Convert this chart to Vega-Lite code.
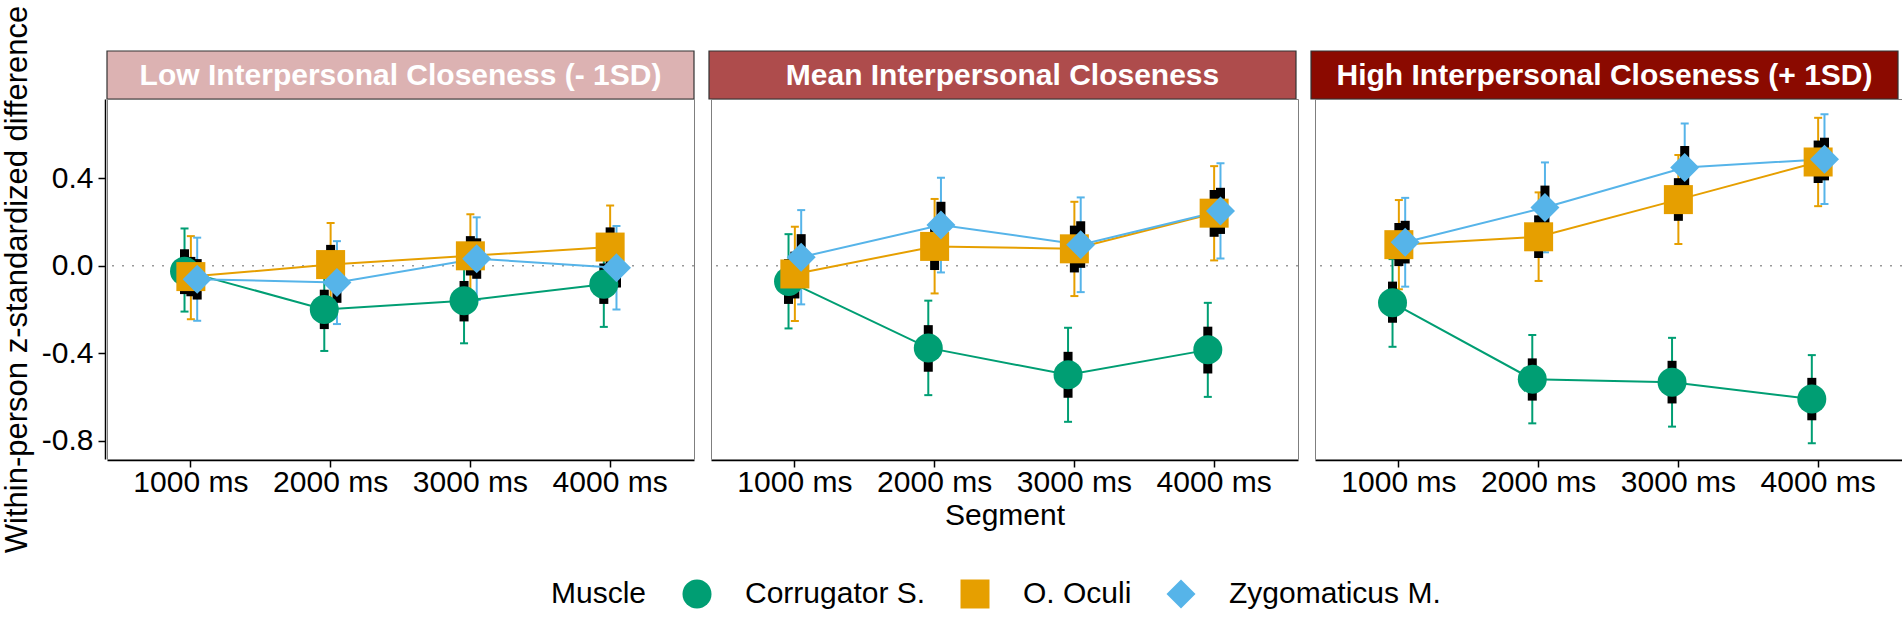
{
  "$schema": "https://vega.github.io/schema/vega-lite/v6.json",
  "background": "white",
  "padding": {"left": 1, "top": 5, "right": 8, "bottom": 5},
  "config": {
    "font": "Liberation Sans",
    "view": {"stroke": "#7f7f7f", "strokeWidth": 1},
    "axis": {"grid": false, "domainColor": "black", "domainWidth": 1.5, "tickColor": "black", "tickWidth": 1.5, "tickSize": 7, "labelFontSize": 30, "labelColor": "black", "titleFontSize": 31, "titleFontWeight": "normal", "titleColor": "black", "labelPadding": 5}
  },
  "datasets": {
    "strips": [
      {"closeness": "Low Interpersonal Closeness (- 1SD)"},
      {"closeness": "Mean Interpersonal Closeness"},
      {"closeness": "High Interpersonal Closeness (+ 1SD)"}
    ],
    "est": [
      {"closeness": "Low Interpersonal Closeness (- 1SD)", "segment": "1000 ms", "muscle": "Corrugator S.", "est": -0.025, "lo": -0.21, "hi": 0.17, "se_lo": -0.13, "se_hi": 0.075},
      {"closeness": "Low Interpersonal Closeness (- 1SD)", "segment": "2000 ms", "muscle": "Corrugator S.", "est": -0.20, "lo": -0.39, "hi": -0.01, "se_lo": -0.29, "se_hi": -0.11},
      {"closeness": "Low Interpersonal Closeness (- 1SD)", "segment": "3000 ms", "muscle": "Corrugator S.", "est": -0.16, "lo": -0.355, "hi": 0.035, "se_lo": -0.255, "se_hi": -0.07},
      {"closeness": "Low Interpersonal Closeness (- 1SD)", "segment": "4000 ms", "muscle": "Corrugator S.", "est": -0.085, "lo": -0.28, "hi": 0.11, "se_lo": -0.175, "se_hi": 0.01},
      {"closeness": "Low Interpersonal Closeness (- 1SD)", "segment": "1000 ms", "muscle": "O. Oculi", "est": -0.05, "lo": -0.245, "hi": 0.135, "se_lo": -0.14, "se_hi": 0.04},
      {"closeness": "Low Interpersonal Closeness (- 1SD)", "segment": "2000 ms", "muscle": "O. Oculi", "est": 0.005, "lo": -0.185, "hi": 0.195, "se_lo": -0.09, "se_hi": 0.095},
      {"closeness": "Low Interpersonal Closeness (- 1SD)", "segment": "3000 ms", "muscle": "O. Oculi", "est": 0.045, "lo": -0.145, "hi": 0.235, "se_lo": -0.045, "se_hi": 0.135},
      {"closeness": "Low Interpersonal Closeness (- 1SD)", "segment": "4000 ms", "muscle": "O. Oculi", "est": 0.085, "lo": -0.105, "hi": 0.275, "se_lo": -0.01, "se_hi": 0.175},
      {"closeness": "Low Interpersonal Closeness (- 1SD)", "segment": "1000 ms", "muscle": "Zygomaticus M.", "est": -0.062, "lo": -0.252, "hi": 0.128, "se_lo": -0.155, "se_hi": 0.03},
      {"closeness": "Low Interpersonal Closeness (- 1SD)", "segment": "2000 ms", "muscle": "Zygomaticus M.", "est": -0.077, "lo": -0.267, "hi": 0.112, "se_lo": -0.17, "se_hi": 0.015},
      {"closeness": "Low Interpersonal Closeness (- 1SD)", "segment": "3000 ms", "muscle": "Zygomaticus M.", "est": 0.032, "lo": -0.157, "hi": 0.221, "se_lo": -0.06, "se_hi": 0.125},
      {"closeness": "Low Interpersonal Closeness (- 1SD)", "segment": "4000 ms", "muscle": "Zygomaticus M.", "est": -0.01, "lo": -0.2, "hi": 0.181, "se_lo": -0.1, "se_hi": 0.085},
      {"closeness": "Mean Interpersonal Closeness", "segment": "1000 ms", "muscle": "Corrugator S.", "est": -0.072, "lo": -0.287, "hi": 0.144, "se_lo": -0.175, "se_hi": 0.03},
      {"closeness": "Mean Interpersonal Closeness", "segment": "2000 ms", "muscle": "Corrugator S.", "est": -0.376, "lo": -0.592, "hi": -0.16, "se_lo": -0.485, "se_hi": -0.272},
      {"closeness": "Mean Interpersonal Closeness", "segment": "3000 ms", "muscle": "Corrugator S.", "est": -0.499, "lo": -0.714, "hi": -0.284, "se_lo": -0.604, "se_hi": -0.394},
      {"closeness": "Mean Interpersonal Closeness", "segment": "4000 ms", "muscle": "Corrugator S.", "est": -0.385, "lo": -0.6, "hi": -0.17, "se_lo": -0.493, "se_hi": -0.279},
      {"closeness": "Mean Interpersonal Closeness", "segment": "1000 ms", "muscle": "O. Oculi", "est": -0.038, "lo": -0.253, "hi": 0.178, "se_lo": -0.15, "se_hi": 0.064},
      {"closeness": "Mean Interpersonal Closeness", "segment": "2000 ms", "muscle": "O. Oculi", "est": 0.088, "lo": -0.127, "hi": 0.305, "se_lo": -0.02, "se_hi": 0.195},
      {"closeness": "Mean Interpersonal Closeness", "segment": "3000 ms", "muscle": "O. Oculi", "est": 0.077, "lo": -0.139, "hi": 0.292, "se_lo": -0.031, "se_hi": 0.183},
      {"closeness": "Mean Interpersonal Closeness", "segment": "4000 ms", "muscle": "O. Oculi", "est": 0.24, "lo": 0.024, "hi": 0.455, "se_lo": 0.132, "se_hi": 0.346},
      {"closeness": "Mean Interpersonal Closeness", "segment": "1000 ms", "muscle": "Zygomaticus M.", "est": 0.039, "lo": -0.177, "hi": 0.254, "se_lo": -0.066, "se_hi": 0.144},
      {"closeness": "Mean Interpersonal Closeness", "segment": "2000 ms", "muscle": "Zygomaticus M.", "est": 0.186, "lo": -0.031, "hi": 0.402, "se_lo": 0.08, "se_hi": 0.292},
      {"closeness": "Mean Interpersonal Closeness", "segment": "3000 ms", "muscle": "Zygomaticus M.", "est": 0.096, "lo": -0.121, "hi": 0.312, "se_lo": -0.01, "se_hi": 0.203},
      {"closeness": "Mean Interpersonal Closeness", "segment": "4000 ms", "muscle": "Zygomaticus M.", "est": 0.25, "lo": 0.033, "hi": 0.468, "se_lo": 0.145, "se_hi": 0.356},
      {"closeness": "High Interpersonal Closeness (+ 1SD)", "segment": "1000 ms", "muscle": "Corrugator S.", "est": -0.17, "lo": -0.371, "hi": 0.03, "se_lo": -0.261, "se_hi": -0.073},
      {"closeness": "High Interpersonal Closeness (+ 1SD)", "segment": "2000 ms", "muscle": "Corrugator S.", "est": -0.519, "lo": -0.721, "hi": -0.317, "se_lo": -0.617, "se_hi": -0.424},
      {"closeness": "High Interpersonal Closeness (+ 1SD)", "segment": "3000 ms", "muscle": "Corrugator S.", "est": -0.533, "lo": -0.736, "hi": -0.33, "se_lo": -0.63, "se_hi": -0.435},
      {"closeness": "High Interpersonal Closeness (+ 1SD)", "segment": "4000 ms", "muscle": "Corrugator S.", "est": -0.61, "lo": -0.812, "hi": -0.409, "se_lo": -0.707, "se_hi": -0.513},
      {"closeness": "High Interpersonal Closeness (+ 1SD)", "segment": "1000 ms", "muscle": "O. Oculi", "est": 0.096, "lo": -0.108, "hi": 0.3, "se_lo": -0.002, "se_hi": 0.195},
      {"closeness": "High Interpersonal Closeness (+ 1SD)", "segment": "2000 ms", "muscle": "O. Oculi", "est": 0.132, "lo": -0.07, "hi": 0.335, "se_lo": 0.035, "se_hi": 0.23},
      {"closeness": "High Interpersonal Closeness (+ 1SD)", "segment": "3000 ms", "muscle": "O. Oculi", "est": 0.302, "lo": 0.099, "hi": 0.506, "se_lo": 0.205, "se_hi": 0.4},
      {"closeness": "High Interpersonal Closeness (+ 1SD)", "segment": "4000 ms", "muscle": "O. Oculi", "est": 0.474, "lo": 0.272, "hi": 0.676, "se_lo": 0.378, "se_hi": 0.572},
      {"closeness": "High Interpersonal Closeness (+ 1SD)", "segment": "1000 ms", "muscle": "Zygomaticus M.", "est": 0.107, "lo": -0.096, "hi": 0.31, "se_lo": 0.01, "se_hi": 0.205},
      {"closeness": "High Interpersonal Closeness (+ 1SD)", "segment": "2000 ms", "muscle": "Zygomaticus M.", "est": 0.266, "lo": 0.061, "hi": 0.472, "se_lo": 0.168, "se_hi": 0.366},
      {"closeness": "High Interpersonal Closeness (+ 1SD)", "segment": "3000 ms", "muscle": "Zygomaticus M.", "est": 0.449, "lo": 0.248, "hi": 0.65, "se_lo": 0.352, "se_hi": 0.547},
      {"closeness": "High Interpersonal Closeness (+ 1SD)", "segment": "4000 ms", "muscle": "Zygomaticus M.", "est": 0.487, "lo": 0.282, "hi": 0.692, "se_lo": 0.39, "se_hi": 0.585}
    ]
  },
  "spacing": 48,
  "bounds": "flush",
  "vconcat": [
    {
      "data": {"name": "strips"},
      "facet": {"column": {"field": "closeness", "type": "nominal", "sort": ["Low Interpersonal Closeness (- 1SD)", "Mean Interpersonal Closeness", "High Interpersonal Closeness (+ 1SD)"], "header": null}},
      "spacing": 13,
      "spec": {
        "width": 587,
        "height": 48,
        "layer": [
          {
            "mark": {"type": "rect", "stroke": "#333333", "strokeWidth": 1.2},
            "encoding": {
              "fill": {"field": "closeness", "type": "nominal", "legend": null, "scale": {"domain": ["Low Interpersonal Closeness (- 1SD)", "Mean Interpersonal Closeness", "High Interpersonal Closeness (+ 1SD)"], "range": ["#DCB2B2", "#AE4C4C", "#8B0A00"]}}
            }
          },
          {
            "mark": {"type": "text", "color": "white", "fontWeight": "bold", "fontSize": 30, "baseline": "middle", "align": "center", "dy": 1},
            "encoding": {
              "text": {"field": "closeness"}
            }
          }
        ]
      }
    },
    {
      "data": {"name": "est"},
      "facet": {"column": {"field": "closeness", "type": "nominal", "sort": ["Low Interpersonal Closeness (- 1SD)", "Mean Interpersonal Closeness", "High Interpersonal Closeness (+ 1SD)"], "header": {"labels": false, "title": "Segment", "titleOrient": "bottom", "titleFontSize": 30, "titleFontWeight": "normal", "titleColor": "black", "titlePadding": -6}}},
      "spacing": 13,
      "spec": {
        "width": 587,
        "height": 360,
        "layer": [
          {
            "transform": [{"filter": "datum.segment == '1000 ms' && datum.muscle == 'O. Oculi'"}],
            "mark": {"type": "rule", "color": "#999999", "strokeWidth": 1.5, "strokeDash": [2, 8]},
            "encoding": {"y": {"datum": 0, "type": "quantitative", "scale": {"domain": [-0.884, 0.762], "nice": false, "zero": false}, "title": "Within-person z-standardized difference"}}
          },
          {
            "mark": {"type": "rule", "strokeWidth": 2, "opacity": 1},
            "encoding": {
              "x": {"field": "segment", "type": "nominal", "title": null, "scale": {"type": "band", "paddingInner": 0, "paddingOuter": 0.1}, "axis": {"labelAngle": 0, "labelPadding": 0}},
              "xOffset": {"field": "muscle", "type": "nominal", "scale": {"type": "point", "domain": ["Corrugator S.", "O. Oculi", "Zygomaticus M."], "range": [60.38, 79.38]}},
              "y": {"field": "lo", "type": "quantitative", "title": "Within-person z-standardized difference", "axis": {"values": [-0.8, -0.4, 0, 0.4], "labelExpr": "datum.value < 0 ? '-' + format(-datum.value, '.1f') : format(datum.value, '.1f')", "titlePadding": 8}},
              "y2": {"field": "hi"},
              "color": {"field": "muscle", "type": "nominal", "title": "Muscle", "scale": {"domain": ["Corrugator S.", "O. Oculi", "Zygomaticus M."], "range": ["#009E73", "#E69F00", "#56B4E9"]}}
            }
          },
          {
            "mark": {"type": "tick", "thickness": 2, "size": 8, "opacity": 1},
            "encoding": {
              "x": {"field": "segment", "type": "nominal"},
              "xOffset": {"field": "muscle", "type": "nominal"},
              "y": {"field": "lo", "type": "quantitative", "title": "Within-person z-standardized difference"},
              "color": {"field": "muscle", "type": "nominal", "title": "Muscle"}
            }
          },
          {
            "mark": {"type": "tick", "thickness": 2, "size": 8, "opacity": 1},
            "encoding": {
              "x": {"field": "segment", "type": "nominal"},
              "xOffset": {"field": "muscle", "type": "nominal"},
              "y": {"field": "hi", "type": "quantitative", "title": "Within-person z-standardized difference"},
              "color": {"field": "muscle", "type": "nominal", "title": "Muscle"}
            }
          },
          {
            "mark": {"type": "rule", "strokeWidth": 9, "color": "black", "strokeCap": "butt"},
            "encoding": {
              "x": {"field": "segment", "type": "nominal"},
              "xOffset": {"field": "muscle", "type": "nominal"},
              "y": {"field": "se_lo", "type": "quantitative", "title": "Within-person z-standardized difference"},
              "y2": {"field": "se_hi"}
            }
          },
          {
            "mark": {"type": "line", "strokeWidth": 2, "opacity": 1},
            "encoding": {
              "x": {"field": "segment", "type": "nominal"},
              "xOffset": {"field": "muscle", "type": "nominal"},
              "y": {"field": "est", "type": "quantitative", "title": "Within-person z-standardized difference"},
              "color": {"field": "muscle", "type": "nominal", "title": "Muscle"}
            }
          },
          {
            "mark": {"type": "point", "filled": true, "size": 841, "opacity": 1},
            "encoding": {
              "x": {"field": "segment", "type": "nominal"},
              "xOffset": {"field": "muscle", "type": "nominal"},
              "y": {"field": "est", "type": "quantitative", "title": "Within-person z-standardized difference"},
              "color": {"field": "muscle", "type": "nominal", "title": "Muscle", "legend": {"orient": "none", "legendX": 444, "legendY": 528, "direction": "horizontal", "titleOrient": "left", "titleFontSize": 30, "titleFontWeight": "normal", "titleColor": "black", "labelFontSize": 30, "labelColor": "black", "labelLimit": 400, "symbolSize": 841, "titlePadding": 35, "labelOffset": 33, "columnPadding": 34, "symbolStrokeWidth": 0, "symbolOpacity": 1}},
              "shape": {"field": "muscle", "type": "nominal", "title": "Muscle", "scale": {"domain": ["Corrugator S.", "O. Oculi", "Zygomaticus M."], "range": ["circle", "square", "diamond"]}, "legend": {"orient": "none", "legendX": 444, "legendY": 528, "direction": "horizontal", "titleOrient": "left", "titleFontSize": 30, "titleFontWeight": "normal", "titleColor": "black", "labelFontSize": 30, "labelColor": "black", "labelLimit": 400, "symbolSize": 841, "titlePadding": 35, "labelOffset": 33, "columnPadding": 34, "symbolStrokeWidth": 0, "symbolOpacity": 1}}
            }
          }
        ]
      }
    }
  ]
}
